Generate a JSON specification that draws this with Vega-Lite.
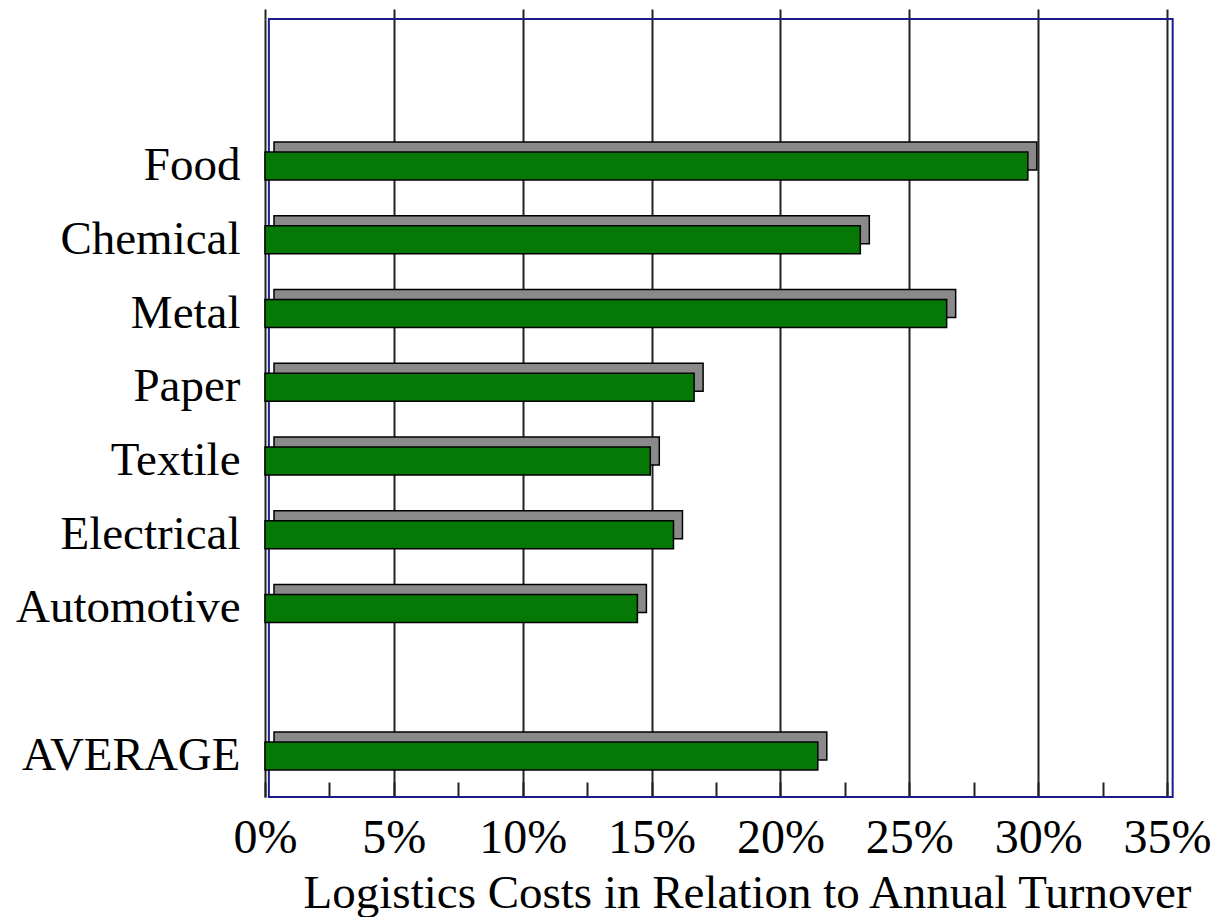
{
  "$schema": "https://vega.github.io/schema/vega-lite/v6.json",
  "autosize": "none",
  "width": 902,
  "height": 778,
  "padding": {"left": 265, "top": 19, "right": 52, "bottom": 120},
  "background": "white",
  "config": {"view": {"stroke": null}, "font": "Liberation Serif, Times New Roman, serif"},
  "data": {"values": [
    {"category": "Food", "value": 0.296},
    {"category": "Chemical", "value": 0.231},
    {"category": "Metal", "value": 0.2645},
    {"category": "Paper", "value": 0.1665},
    {"category": "Textile", "value": 0.1495},
    {"category": "Electrical", "value": 0.1585},
    {"category": "Automotive", "value": 0.1445},
    {"category": "AVERAGE", "value": 0.2145}
  ]},
  "resolve": {"axis": {"x": "independent"}},
  "layer": [
    {
      "data": {"values": [{}]},
      "mark": {"type": "rect", "fill": null, "stroke": "#1c1c8c", "strokeWidth": 2},
      "encoding": {
        "x": {"datum": 0.0015, "type": "quantitative", "scale": {"domain": [0, 0.35], "nice": false, "zero": true}, "axis": null},
        "x2": {"datum": 0.3522}
      }
    },
    {
      "mark": {"type": "bar", "color": "#8a8a8a", "stroke": "black", "strokeWidth": 1.5, "xOffset": 9, "yOffset": -10},
      "encoding": {
        "x": {"field": "value", "type": "quantitative",
          "scale": {"domain": [0, 0.35], "nice": false, "zero": true},
          "axis": {"orient": "top", "values": [0, 0.05, 0.1, 0.15, 0.2, 0.25, 0.3, 0.35], "labels": false, "domain": false, "ticks": true, "tickSize": 10, "tickColor": "#222", "tickWidth": 2, "grid": true, "gridColor": "#222", "gridWidth": 2, "gridOpacity": 1, "title": null}},
        "y": {"field": "category", "type": "nominal",
          "scale": {"domain": ["  ", "Food", "Chemical", "Metal", "Paper", "Textile", "Electrical", "Automotive", " ", "AVERAGE"], "paddingInner": 0.62, "paddingOuter": 0.585, "align": 0.687},
          "axis": {"title": null, "domain": false, "ticks": false, "labelFont": "Liberation Serif, Times New Roman, serif", "labelFontSize": 47, "labelColor": "black", "labelPadding": 25, "labelLimit": 400}}
      }
    },
    {
      "mark": {"type": "bar", "color": "#067806", "stroke": "black", "strokeWidth": 1.5},
      "encoding": {
        "x": {"field": "value", "type": "quantitative",
          "scale": {"domain": [0, 0.35], "nice": false, "zero": true},
          "axis": {"orient": "bottom", "values": [0, 0.025, 0.05, 0.075, 0.1, 0.125, 0.15, 0.175, 0.2, 0.225, 0.25, 0.275, 0.3, 0.325, 0.35],
            "labelExpr": "round(datum.value*1000) % 50 == 0 ? format(datum.value, '.0%') : ''",
            "labelOverlap": false, "labelFlush": false, "domain": false, "grid": false,
            "ticks": true, "tickSize": -15, "tickColor": "#222", "tickWidth": 2,
            "labelFont": "Liberation Serif, Times New Roman, serif", "labelFontSize": 48, "labelColor": "black", "labelPadding": 32,
            "title": "Logistics Costs in Relation to Annual Turnover", "titleFont": "Liberation Serif, Times New Roman, serif", "titleFontSize": 47, "titleFontWeight": "normal", "titleColor": "black", "titleX": 482, "titlePadding": 8}},
        "y": {"field": "category", "type": "nominal",
          "scale": {"domain": ["  ", "Food", "Chemical", "Metal", "Paper", "Textile", "Electrical", "Automotive", " ", "AVERAGE"], "paddingInner": 0.62, "paddingOuter": 0.585, "align": 0.687},
          "axis": {"title": null, "domain": false, "ticks": false, "labelFont": "Liberation Serif, Times New Roman, serif", "labelFontSize": 47, "labelColor": "black", "labelPadding": 25, "labelLimit": 400}}
      }
    }
  ]
}
